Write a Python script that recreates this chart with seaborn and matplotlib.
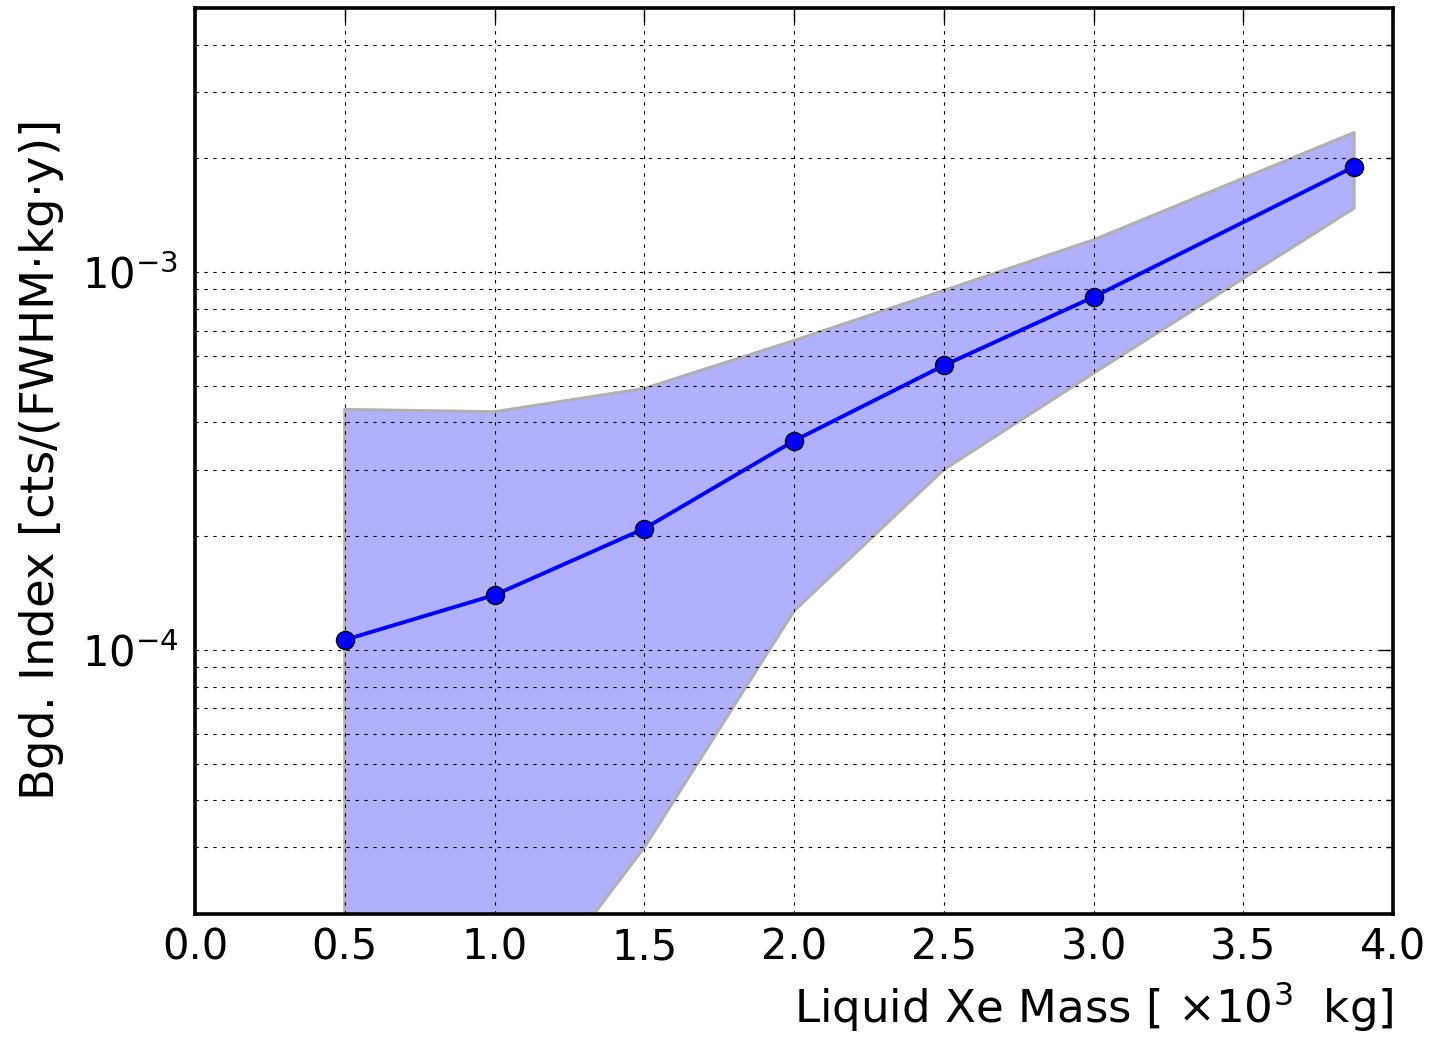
import numpy as np
import pandas as pd
import matplotlib
matplotlib.use("Agg")
import matplotlib.pyplot as plt
from matplotlib.ticker import LogLocator, NullFormatter, MultipleLocator
import seaborn as sns

# Liquid Xe mass (x10^3 kg) and background index values
mass = [0.5, 1.0, 1.5, 2.0, 2.5, 3.0, 3.87]
bgd_index = [1.063e-4, 1.397e-4, 2.094e-4, 3.576e-4, 5.66e-4, 8.59e-4, 1.90e-3]
band_upper = [4.33e-4, 4.27e-4, 4.92e-4, 6.59e-4, 8.94e-4, 1.217e-3, 2.34e-3]
band_lower = [1.0e-7, 9.0e-6, 3.0e-5, 1.268e-4, 3.00e-4, 5.40e-4, 1.476e-3]

df = pd.DataFrame({"mass": mass, "bgd": bgd_index})

sns.set_theme(style="white")
plt.rcParams["font.family"] = ["DejaVu Sans"]
plt.rcParams["mathtext.fontset"] = "dejavusans"
for key in ("text.color", "axes.labelcolor", "xtick.color", "ytick.color"):
    plt.rcParams[key] = "black"

fig = plt.figure(figsize=(14.37, 10.39), dpi=100)
ax = fig.add_axes([0.1357, 0.1203, 0.8337, 0.872])

ax.set_yscale("log")

ax.fill_between(mass, band_lower, band_upper, facecolor="#b0b0fc",
                edgecolor="#b0b0b0", linewidth=2.2, zorder=1)

sns.lineplot(data=df, x="mass", y="bgd", ax=ax, color="blue", linewidth=2.8,
             marker="o", markersize=13, markerfacecolor="blue",
             markeredgecolor="black", markeredgewidth=1.0, zorder=3)

ax.set_xlim(0, 4.0)
ax.set_ylim(2e-5, 5e-3)

ax.xaxis.set_major_locator(MultipleLocator(0.5))
ax.yaxis.set_major_locator(LogLocator(base=10))
ax.yaxis.set_minor_locator(LogLocator(base=10, subs=np.arange(2, 10)))
ax.yaxis.set_minor_formatter(NullFormatter())

ax.grid(True, which="major", axis="both", color="black", linestyle=(0, (3, 5)), linewidth=0.8)
ax.grid(True, which="minor", axis="y", color="black", linestyle=(0, (3, 5)), linewidth=0.8)
ax.set_axisbelow(False)

for s in ax.spines.values():
    s.set_linewidth(2.6)
    s.set_color("black")
    s.set_zorder(5)

ax.tick_params(axis="both", which="major", direction="in", length=10, width=1,
               top=True, right=True, labelsize=30, pad=12, colors="black")
ax.tick_params(axis="x", which="major", pad=9)
ax.tick_params(axis="both", which="minor", direction="in", length=5, width=1,
               top=True, right=True)
ax.tick_params(axis="x", which="minor", bottom=False, top=False)

ax.set_xlabel(r"Liquid Xe Mass [ $\times10^{3}$  kg]", fontsize=32.5, ha="right")
ax.xaxis.set_label_coords(1.0, -0.073)
ax.set_ylabel(r"Bgd. Index [cts/(FWHM$\cdot$kg$\cdot$y)]", fontsize=33.5)
ax.yaxis.set_label_coords(-0.108, 0.5)

fig.savefig("out.png", dpi=100, facecolor="white")
